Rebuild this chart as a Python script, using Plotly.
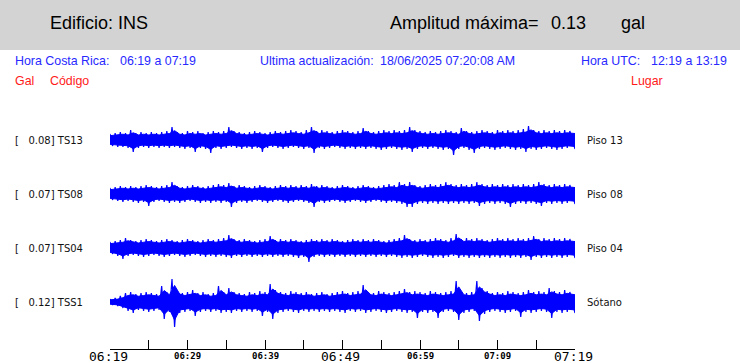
import plotly.graph_objects as go

# ---------------- data ----------------
codes = ["TS13", "TS08", "TS04", "TSS1"]
places = ["Piso 13", "Piso 08", "Piso 04", "Sótano"]
max_gal = [0.08, 0.07, 0.07, 0.12]
tick_minutes = [0, 5, 10, 15, 20, 25, 30, 35, 40, 45, 50, 55, 60]
major_labels = {0: "06:19", 30: "06:49", 60: "07:19"}
minor_labels = {10: "06:29", 20: "06:39", 40: "06:59", 50: "07:09"}
amp_max = "0.13"

# envelope readings (counts, 1 count = 0.005 gal), 90 bins over 60 minutes
ts13_up = [6,7,8,7,10,7,8,7,8,7, 8,9,13,8,7,9,8,9,7,8, 9,8,9,13,9,8,7,8,9,8,
           7,8,9,8,9,10,9,8,10,13, 9,10,9,8,9,10,9,8,9,12, 9,8,9,10,9,10,9,10,13,10,
           9,8,9,8,9,10,9,8,12,9, 8,9,10,9,8,10,9,10,9,10, 11,14,10,9,10,9,10,9,10,9]
ts13_lo = [6,7,7,8,12,8,7,8,7,8, 7,8,7,8,9,8,12,8,9,13, 8,9,8,7,8,9,8,9,8,12,
           8,7,8,9,8,7,8,9,8,13, 8,9,8,7,8,9,8,9,8,9, 8,9,10,9,8,9,10,9,12,9,
           8,9,8,9,10,9,15,9,8,10, 13,9,8,9,10,9,8,9,10,9, 12,9,10,9,8,9,10,9,8,9]
ts08_up = [6,7,8,7,8,7,8,9,8,7, 8,9,12,8,7,8,9,8,7,8, 9,10,9,11,8,9,8,7,8,9,
           8,7,8,9,8,9,8,9,8,10, 8,9,8,7,8,9,8,7,8,9, 8,7,8,9,10,9,12,10,12,9,
           8,9,10,9,10,12,10,9,10,9, 10,12,10,9,10,9,10,9,10,9, 10,9,10,12,10,9,10,9,10,9]
ts08_lo = [6,7,8,7,8,9,8,12,8,7, 8,9,8,9,8,7,8,9,8,9, 8,9,8,13,9,8,9,8,7,8,
           9,8,7,8,9,8,7,8,9,13, 8,9,8,7,8,9,8,7,8,9, 8,7,8,9,8,9,10,13,13,10,
           9,10,9,10,9,10,9,10,9,10, 9,12,10,9,10,9,10,13,10,9, 10,9,10,12,9,10,9,10,9,10]
ts04_up = [6,7,8,10,8,7,8,9,8,7, 8,9,8,7,8,9,8,7,8,9, 8,9,10,13,9,8,9,8,7,8,
           9,12,8,9,8,9,8,7,8,9, 8,9,8,9,8,7,8,9,8,9, 8,9,8,7,8,9,10,13,9,8,
           9,8,9,10,9,8,10,14,9,10, 9,10,9,8,9,10,9,10,9,10, 9,10,12,9,10,9,10,9,10,9]
ts04_lo = [6,8,11,8,7,8,9,8,7,8, 9,8,7,8,9,8,7,8,9,8, 9,8,9,10,8,9,8,9,8,9,
           8,9,8,9,8,9,10,9,14,9, 8,9,8,9,8,9,8,9,8,9, 8,9,8,9,8,9,10,9,10,9,
           8,9,10,9,10,9,8,10,9,10, 9,10,9,10,9,10,9,10,9,10, 9,12,9,10,9,10,9,10,9,10]
tss1_up = [3,4,6,9,10,8,9,10,9,8, 16,10,23,11,9,10,12,9,10,8, 9,16,10,14,10,9,8,10,9,11,
           10,18,12,10,9,11,10,9,10,8, 9,10,8,9,10,11,9,10,11,17, 10,9,11,10,9,10,11,13,10,11,
           10,9,11,10,9,10,11,21,10,9, 10,21,14,11,9,10,9,11,10,9, 10,12,10,11,10,14,11,10,12,10]
tss1_lo = [3,4,6,9,11,8,9,10,9,8, 17,10,25,11,10,9,14,10,9,10, 9,11,10,11,9,10,9,10,9,14,
           10,17,11,10,9,10,11,9,10,9, 10,9,10,9,10,11,9,10,9,11, 10,9,10,11,10,9,10,11,10,16,
           10,11,10,16,10,9,10,18,11,10, 9,19,12,10,9,10,11,10,9,15, 10,11,10,9,10,16,10,11,10,11]
uppers = [ts13_up, ts08_up, ts04_up, tss1_up]
lowers = [ts13_lo, ts08_lo, ts04_lo, tss1_lo]
COUNT_TO_GAL = 0.005

# ---------------- layout helpers ----------------
W, H = 740, 363
L, R, T, B = 110, 575, 90, 349
offsets = [1.045, 0.775, 0.505, 0.235]  # trace baselines (gal on the stacked axis)
Y_RANGE = [0, 1.295]
CORE = 0.72  # solid core drawn at this fraction of the envelope

def px(xp):
    return (xp - L) / (R - L)

def py(yp):
    return (B - yp) / (B - T)

fig = go.Figure()
for k in range(4):
    n = len(uppers[k])
    step = 60.0 / n
    # solid core band
    t = [(i + 0.5) * step for i in range(n)]
    t[0], t[-1] = 0.0, 60.0
    cu = [offsets[k] + CORE * v * COUNT_TO_GAL for v in uppers[k]]
    cl = [offsets[k] - CORE * v * COUNT_TO_GAL for v in lowers[k]]
    fig.add_trace(go.Scatter(x=t + t[::-1], y=cu + cl[::-1], mode="lines",
                             fill="toself", fillcolor="#0000ff",
                             line=dict(color="#0000ff", width=1),
                             hoverinfo="skip", showlegend=False))
    # oscillating trace: up peak then down peak in every bin
    zx, zy = [], []
    for i in range(n):
        zx += [i * step, (i + 0.5) * step]
        zy += [offsets[k] + uppers[k][i] * COUNT_TO_GAL,
               offsets[k] - lowers[k][i] * COUNT_TO_GAL]
    zx[-1] = 60.0
    fig.add_trace(go.Scatter(x=zx, y=zy, mode="lines",
                             line=dict(color="#0000ff", width=1.2),
                             hoverinfo="skip", showlegend=False))

fig.update_xaxes(range=[0, 60], showgrid=False, zeroline=False, showline=True,
                 linecolor="black", linewidth=1, ticks="inside", ticklen=9,
                 tickcolor="black", tickwidth=1, tickvals=tick_minutes,
                 showticklabels=False)
fig.update_yaxes(range=Y_RANGE, visible=False)

ann = []
def text(xp, yp, s, size, color="black", family="Liberation Sans, Arial", anchor="left"):
    ann.append(dict(x=px(xp - 2), y=py(yp), xref="paper", yref="paper", text=s,
                    showarrow=False, xanchor=anchor, yanchor="middle",
                    font=dict(size=size, color=color, family=family)))

# header
text(50, 23, "Edificio: INS", 18)
text(390, 23, "Amplitud máxima=", 18)
text(551, 23, amp_max, 18)
text(621, 23, "gal", 18)
blue = "#2828ff"
text(15, 61, "Hora Costa Rica:", 12.4, blue)
text(120, 61, "06:19 a 07:19", 12.4, blue)
text(260, 61, "Ultima actualización:", 12.4, blue)
text(380, 61, "18/06/2025 07:20:08 AM", 12.4, blue)
text(581, 61, "Hora UTC:", 12.4, blue)
text(651, 61, "12:19 a 13:19", 12.4, blue)
red = "#ff1a1a"
text(15, 81, "Gal", 12.4, red)
text(50, 81, "Código", 12.4, red)
text(631, 81, "Lugar", 12.4, red)

centers = [140, 194, 248, 302]
for k in range(4):
    text(15, centers[k], "[&nbsp;&nbsp;&nbsp;%.2f] %s" % (max_gal[k], codes[k]), 10,
         "#111111", "DejaVu Sans")
    text(587, centers[k], places[k], 10, "#111111", "DejaVu Sans")

for m, s in major_labels.items():
    ann.append(dict(x=m, y=py(356), xref="x", yref="paper", text=s, showarrow=False,
                    xanchor="center", yanchor="middle", xshift=-2,
                    font=dict(size=13, color="black", family="DejaVu Sans Mono")))
for m, s in minor_labels.items():
    ann.append(dict(x=m, y=py(356), xref="x", yref="paper", text="<b>%s</b>" % s,
                    showarrow=False, xanchor="center", yanchor="middle",
                    font=dict(size=9, color="black", family="DejaVu Sans Mono")))

fig.update_layout(
    width=W, height=H, margin=dict(l=L, r=W - R, t=T, b=H - B),
    paper_bgcolor="white", plot_bgcolor="white", annotations=ann,
    shapes=[dict(type="rect", xref="paper", yref="paper", x0=px(0), x1=px(W),
                 y0=py(50), y1=py(0), fillcolor="#d3d3d3", line=dict(width=0),
                 layer="below")],
)
fig.write_html("out.html", config={"displayModeBar": False},
               post_script="document.body.style.margin='0px';document.body.style.overflow='hidden';")
